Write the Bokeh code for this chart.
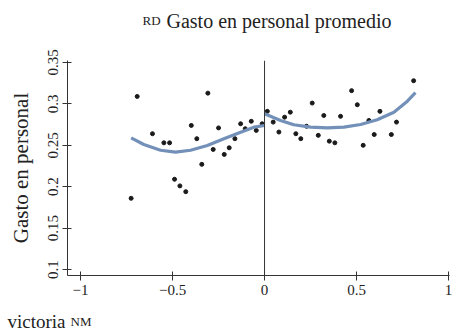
from bokeh.plotting import figure
from bokeh.layouts import column
from bokeh.models import Range1d, FixedTicker, Span
from bokeh.core.properties import value
from bokeh.embed import file_html
from bokeh.resources import INLINE

# scatter data (running variable, gasto en personal)
x_pts = [-0.725, -0.692, -0.609, -0.547, -0.516, -0.489, -0.460, -0.428, -0.398, -0.368,
         -0.341, -0.308, -0.279, -0.250, -0.219, -0.192, -0.161, -0.130, -0.105, -0.072,
         -0.045, -0.013, 0.015, 0.047, 0.078, 0.109, 0.140, 0.170, 0.197, 0.228,
         0.259, 0.292, 0.322, 0.352, 0.382, 0.413, 0.473, 0.504, 0.536, 0.567,
         0.596, 0.627, 0.689, 0.717, 0.810]
y_pts = [0.186, 0.309, 0.264, 0.253, 0.253, 0.209, 0.201, 0.194, 0.274, 0.258,
         0.227, 0.313, 0.245, 0.271, 0.239, 0.247, 0.258, 0.276, 0.270, 0.279,
         0.268, 0.276, 0.291, 0.278, 0.266, 0.284, 0.290, 0.264, 0.258, 0.273,
         0.301, 0.262, 0.286, 0.255, 0.253, 0.285, 0.316, 0.299, 0.250, 0.280,
         0.263, 0.291, 0.263, 0.278, 0.328]

# fitted curves
left_fit_x = [-0.725, -0.656, -0.565, -0.484, -0.402, -0.311, -0.221, -0.130, -0.058, 0.0]
left_fit_y = [0.259, 0.251, 0.244, 0.2417, 0.244, 0.2498, 0.2579, 0.2659, 0.2719, 0.2739]
right_fit_x = [0.0, 0.087, 0.159, 0.250, 0.341, 0.431, 0.522, 0.612, 0.703, 0.776, 0.820]
right_fit_y = [0.288, 0.280, 0.2748, 0.2719, 0.2711, 0.2719, 0.2751, 0.2808, 0.290, 0.3033, 0.3135]

x_ticks = [-1, -0.5, 0, 0.5, 1]
x_tick_labels = ["\u22121", "\u22120.5", "0", "0.5", "1"]
y_ticks = [0.1, 0.15, 0.2, 0.25, 0.3, 0.35]
y_tick_labels = ["0.1", "0.15", "0.2", "0.25", "0.3", "0.35"]

title_sc = "RD"
title_main = "Gasto en personal promedio"
caption_main = "victoria"
caption_sc = "NM"

FONT = "Liberation Serif"
AX = "#333333"
TXT = "#222222"
CURVE = "#7290b8"
W = 456
TOP_H = 40
BOT_H = 36
MAIN_H = 336 - TOP_H - BOT_H


def text_strip(h):
    f = figure(width=W, height=h, output_backend="svg", toolbar_location=None,
               x_range=Range1d(0, W), y_range=Range1d(0, h),
               min_border=0, min_border_left=0, min_border_right=0,
               min_border_top=0, min_border_bottom=0, frame_align=False)
    f.axis.visible = False
    f.grid.visible = False
    f.outline_line_color = None
    f.border_fill_color = "white"
    f.background_fill_color = "white"
    return f


# title strip
top = text_strip(TOP_H)
top.text(x=[142], y=[TOP_H - 20], text=[title_sc], text_font=value(FONT),
         text_font_size="13px", text_color=TXT, text_baseline="alphabetic")
top.text(x=[166], y=[TOP_H - 20], text=[title_main], text_font=value(FONT),
         text_font_size="20px", text_color=TXT, text_baseline="alphabetic")

# main plot
p = figure(width=W, height=MAIN_H, output_backend="svg", toolbar_location=None,
           x_range=Range1d(-1.0707, 1.005), y_range=Range1d(0.0928, 0.3524),
           min_border_left=67, min_border_right=7, min_border_top=60 - TOP_H,
           min_border_bottom=(300 - 275), frame_align=False)
p.outline_line_color = None
p.grid.visible = False
p.background_fill_color = "white"
p.border_fill_color = "white"

p.xaxis.ticker = FixedTicker(ticks=x_ticks)
p.xaxis.major_label_overrides = {t: l for t, l in zip(x_ticks, x_tick_labels)}
p.yaxis.ticker = FixedTicker(ticks=y_ticks)
p.yaxis.major_label_overrides = {t: l for t, l in zip(y_ticks, y_tick_labels)}
p.yaxis.major_label_orientation = "vertical"
p.yaxis.axis_label = "Gasto en personal"
for ax in (p.xaxis, p.yaxis):
    ax.axis_line_color = AX
    ax.major_tick_line_color = AX
    ax.minor_tick_line_color = None
    ax.major_tick_in = 4
    ax.major_tick_out = 5
    ax.major_label_text_font = FONT
    ax.major_label_text_font_size = "15px"
    ax.major_label_text_color = TXT
    ax.major_label_standoff = 4
p.yaxis.axis_label_text_font = FONT
p.yaxis.axis_label_text_font_size = "21px"
p.yaxis.axis_label_text_font_style = "normal"
p.yaxis.axis_label_text_color = TXT
p.yaxis.axis_label_standoff = 13

p.add_layout(Span(location=0, dimension="height", line_color=AX, line_width=1))

p.scatter(x_pts, y_pts, size=4, color="#1a1a1a")
p.line(left_fit_x, left_fit_y, line_color=CURVE, line_width=3.2)
p.line(right_fit_x, right_fit_y, line_color=CURVE, line_width=3.2)

# caption strip (texts centred vertically in the strip)
bot = text_strip(BOT_H)
bot.text(x=[7], y=[BOT_H / 2 - 3], text=[caption_main], text_font=value(FONT),
         text_font_size="19px", text_color=TXT, text_baseline="middle")
bot.text(x=[70], y=[BOT_H / 2 - 3], text=[caption_sc], text_font=value(FONT),
         text_font_size="13px", text_color=TXT, text_baseline="middle")

layout = column(top, p, bot, spacing=0)
open("out.html", "w").write(file_html(layout, INLINE))
